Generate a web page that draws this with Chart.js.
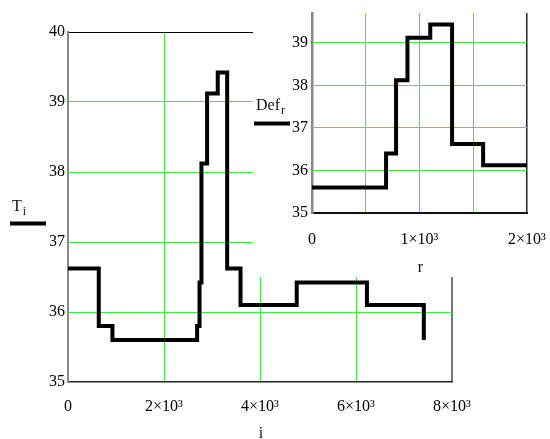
<!DOCTYPE html>
<html><head><meta charset="utf-8">
<script src="https://cdn.jsdelivr.net/npm/chart.js@4/dist/chart.umd.min.js"></script>
<style>
html,body{margin:0;padding:0;background:#fff;}
#wrap{position:relative;width:550px;height:439px;overflow:hidden;}
#main{position:absolute;left:0;top:0;}
#inset{position:absolute;left:253px;top:0;background:#fff;}
</style></head><body>
<div id="wrap">
<canvas id="main" width="550" height="439"></canvas>
<canvas id="inset" width="297" height="277"></canvas>
</div>
<script>
// Main plot: T_i versus i (step function; each value holds until the next break)
const mainI = [0, 641, 926, 2690, 2740, 2780, 2898, 3120, 3316, 3594, 4765, 6228, 7413];
const mainT = [36.62, 35.8, 35.6, 35.8, 36.42, 38.12, 39.12, 39.42, 36.62, 36.1, 36.42, 36.1, 35.6];
// Inset plot: Def_r versus r
const insetR = [0, 689, 782, 888, 1100, 1303, 1592, 2000];
const insetDef = [35.6, 36.4, 38.12, 39.12, 39.43, 36.62, 36.12, 36.12];
// Axis ranges / ticks
const mainXRange = [0, 8000];
const mainXStep = 2000;
const mainYRange = [35, 40];
const insetXRange = [0, 2000];
const insetXStep = 500;
const insetXLabelStep = 1000;
const insetYRange = [35, 39.7];
const yStep = 1;

const SERIF = "'Liberation Serif','Times New Roman',serif";
const GRID = 'rgb(60,235,60)';
const SUP = {'0':'⁰','1':'¹','2':'²','3':'³','4':'⁴','5':'⁵','6':'⁶','7':'⁷','8':'⁸','9':'⁹'};
function sci(v){
  if (v === 0) return '0';
  const e = Math.floor(Math.log10(Math.abs(v)) + 1e-9);
  const m = Math.round(v / Math.pow(10, e) * 100) / 100;
  return m + '×10' + String(e).split('').map(c => SUP[c]).join('');
}
function stepPts(xs, ys){ return xs.map((x, k) => ({x: x, y: ys[k]})); }

const labelPlugin = (draw) => ({ id: 'lbl' + Math.random().toString(36).slice(2), afterDraw(chart){ const ctx = chart.ctx; ctx.save(); draw(chart, ctx); ctx.restore(); } });

function subLabel(ctx, main, sub, x, y, lx1, lx2, ly){
  ctx.fillStyle = '#111';
  ctx.textAlign = 'left';
  ctx.textBaseline = 'alphabetic';
  ctx.font = '16px ' + SERIF;
  ctx.fillText(main, x, y);
  const w = ctx.measureText(main).width;
  ctx.font = '12px ' + SERIF;
  ctx.fillText(sub, x + w + 1, y + 4);
  ctx.strokeStyle = '#000';
  ctx.lineWidth = 4;
  ctx.beginPath(); ctx.moveTo(lx1, ly); ctx.lineTo(lx2, ly); ctx.stroke();
}

new Chart(document.getElementById('main'), {
  type: 'line',
  data: { datasets: [{ data: stepPts(mainI, mainT), stepped: 'before', borderColor: '#000', borderWidth: 4, pointRadius: 0, fill: false, tension: 0 }] },
  options: {
    responsive: false, animation: false, devicePixelRatio: 1,
    layout: { padding: { left: 0, top: 32, right: 98, bottom: 0 } },
    plugins: { legend: { display: false }, tooltip: { enabled: false } },
    scales: {
      x: {
        type: 'linear', min: mainXRange[0], max: mainXRange[1],
        afterFit: s => { s.height = 57; s.paddingLeft = 0; s.paddingRight = 0; },
        ticks: { stepSize: mainXStep, callback: v => sci(v), color: '#000', font: { family: SERIF, size: 16 }, padding: 15, maxRotation: 0 },
        grid: { drawTicks: false, color: c => (c.tick.value === mainXRange[0] ? 'rgba(0,0,0,0)' : c.tick.value === mainXRange[1] ? '#777' : GRID), lineWidth: c => (c.tick.value === mainXRange[1] ? 2 : 1) },
        border: { color: '#222', width: 1.5 }
      },
      y: {
        type: 'linear', min: mainYRange[0], max: mainYRange[1],
        afterFit: s => { s.width = 68; },
        ticks: { stepSize: yStep, color: '#000', font: { family: SERIF, size: 16 }, padding: 3 },
        grid: { drawTicks: false, color: c => (c.tick.value === mainYRange[0] ? 'rgba(0,0,0,0)' : c.tick.value === mainYRange[1] ? '#000' : GRID), lineWidth: 1 },
        border: { color: '#888', width: 2 }
      }
    }
  },
  plugins: [labelPlugin((chart, ctx) => {
    subLabel(ctx, 'T', 'i', 12, 211, 10, 46, 223.5);
    const xs = chart.scales.x;
    ctx.font = '16px ' + SERIF; ctx.textAlign = 'center'; ctx.fillStyle = '#111';
    ctx.fillText('i', (xs.left + xs.right) / 2 + 1, 438);
  })]
});

new Chart(document.getElementById('inset'), {
  type: 'line',
  data: { datasets: [{ data: stepPts(insetR, insetDef), stepped: 'before', borderColor: '#000', borderWidth: 4, pointRadius: 0, fill: false, tension: 0 }] },
  options: {
    responsive: false, animation: false, devicePixelRatio: 1,
    layout: { padding: { left: 0, top: 13, right: 23, bottom: 0 } },
    plugins: { legend: { display: false }, tooltip: { enabled: false } },
    scales: {
      x: {
        type: 'linear', min: insetXRange[0], max: insetXRange[1],
        afterFit: s => { s.height = 64; s.paddingLeft = 0; s.paddingRight = 0; },
        ticks: { stepSize: insetXStep, autoSkip: false, callback: v => (v % insetXLabelStep === 0 ? sci(v) : ''), color: '#000', font: { family: SERIF, size: 16 }, padding: 17, maxRotation: 0 },
        grid: { drawTicks: false, color: c => (c.tick.value === insetXRange[0] ? 'rgba(0,0,0,0)' : c.tick.value === insetXRange[1] ? '#222' : GRID), lineWidth: c => (c.tick.value === insetXRange[1] ? 1.5 : 1) },
        border: { color: '#111', width: 2 }
      },
      y: {
        type: 'linear', min: insetYRange[0], max: insetYRange[1],
        afterFit: s => { s.width = 59; s.paddingTop = 0; s.paddingBottom = 0; },
        ticks: { stepSize: yStep, includeBounds: false, color: '#000', font: { family: SERIF, size: 16 }, padding: 4 },
        grid: { drawTicks: false, color: c => (c.tick.value === insetYRange[0] ? 'rgba(0,0,0,0)' : GRID), lineWidth: 1 },
        border: { color: '#888', width: 2.5 }
      }
    }
  },
  plugins: [labelPlugin((chart, ctx) => {
    subLabel(ctx, 'Def', 'r', 3, 109.5, 1, 37, 123.5);
    const xs = chart.scales.x;
    ctx.font = '16px ' + SERIF; ctx.textAlign = 'center'; ctx.fillStyle = '#111';
    ctx.fillText('r', (xs.left + xs.right) / 2 + 1, 271.5);
  })]
});
</script>
</body></html>
